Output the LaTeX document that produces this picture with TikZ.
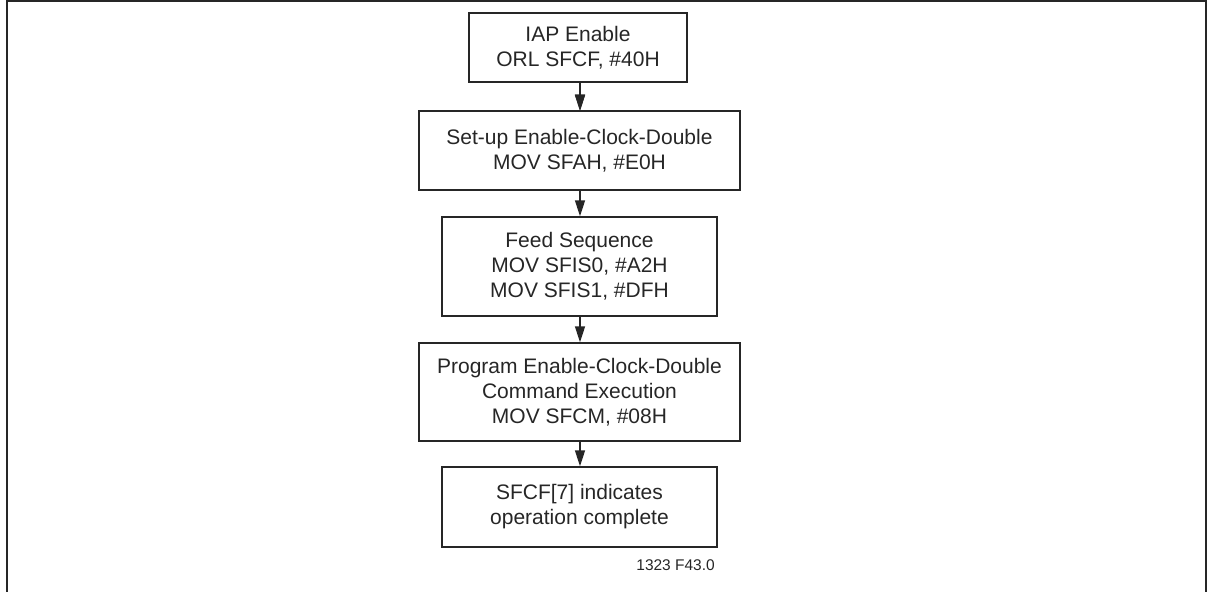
\documentclass[tikz,border=0pt]{standalone}
\usepackage{fontspec}
\setmainfont{Liberation Sans}
\usetikzlibrary{arrows.meta}
\begin{document}
\begin{tikzpicture}[x=1pt,y=-1pt,
  stepbox/.style={draw=black!85,line width=1.4pt,inner sep=0pt,align=center,
    font=\fontsize{21}{25}\selectfont,text=black!85},
  flow/.style={draw=black!85,line width=1.4pt,-{Triangle[length=16pt,width=10pt]}}]
\useasboundingbox (0,0) rectangle (1211,592);
\draw[line width=2pt,black!85] (7,592) -- (7,1) -- (1206,1) -- (1206,592);
\node[stepbox,minimum width=218pt,minimum height=69pt] (b1) at (578,47.5) {IAP Enable\\ORL SFCF, \#40H};
\node[stepbox,minimum width=321pt,minimum height=79pt] (b2) at (579.5,150.5) {Set-up Enable-Clock-Double\\MOV SFAH, \#E0H};
\node[stepbox,minimum width=275pt,minimum height=99pt] (b3) at (579.5,266.5) {Feed Sequence\\MOV SFIS0, \#A2H\\MOV SFIS1, \#DFH};
\node[stepbox,minimum width=321pt,minimum height=98pt] (b4) at (579.5,392) {Program Enable-Clock-Double\\Command Execution\\MOV SFCM, \#08H};
\node[stepbox,minimum width=275pt,minimum height=80pt] (b5) at (579.5,507) {SFCF[7] indicates\\operation complete};
\node[anchor=east,inner sep=0pt,font=\fontsize{15.5}{18}\selectfont,text=black!85] (fig) at (715,565) {1323 F43.0};
\draw[flow] (580,82) coordinate (a1) -- (580,111);
\foreach \u/\v in {b1/b2,b2/b3,b3/b4,b4/b5}
  \draw[flow] (\u.south -| a1) -- (\v.north -| a1);
\end{tikzpicture}
\end{document}
